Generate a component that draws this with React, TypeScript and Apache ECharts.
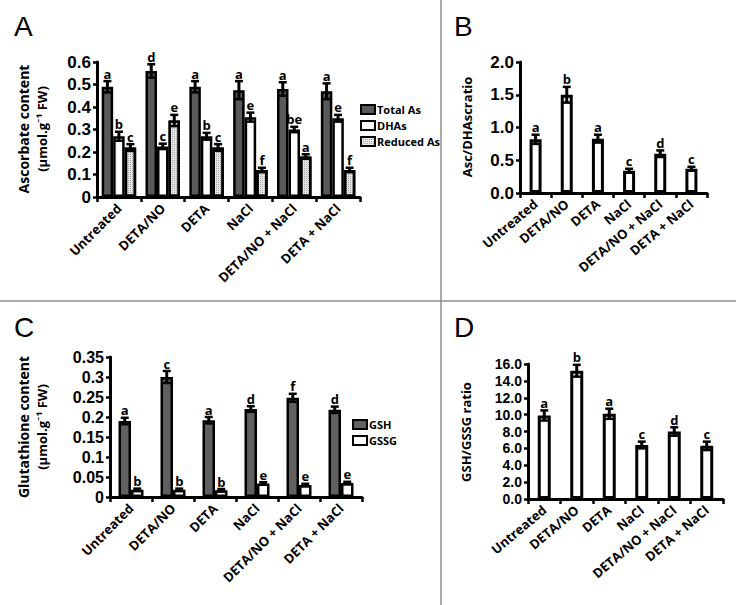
import React, { useEffect, useRef } from "react";
import * as echarts from "echarts";

const categories = ["Untreated", "DETA/NO", "DETA", "NaCl", "DETA/NO + NaCl", "DETA + NaCl"];

// Panel A – ascorbate content
const totalAs = [0.49, 0.56, 0.49, 0.475, 0.48, 0.47];
const totalAsErr = [0.025, 0.03, 0.025, 0.04, 0.03, 0.035];
const totalAsLetters = ["a", "d", "a", "a", "a", "a"];
const dhas = [0.27, 0.225, 0.27, 0.355, 0.3, 0.35];
const dhasErr = [0.02, 0.012, 0.015, 0.02, 0.012, 0.015];
const dhasLetters = ["b", "c", "b", "e", "be", "e"];
const reducedAs = [0.22, 0.34, 0.22, 0.12, 0.18, 0.12];
const reducedAsErr = [0.015, 0.025, 0.015, 0.01, 0.01, 0.01];
const reducedAsLetters = ["c", "e", "c", "f", "a", "f"];

// Panel B – Asc/DHAsc ratio
const ascRatio = [0.82, 1.5, 0.83, 0.34, 0.6, 0.37];
const ascRatioErr = [0.07, 0.12, 0.06, 0.03, 0.05, 0.03];
const ascRatioLetters = ["a", "b", "a", "c", "d", "c"];

// Panel C – glutathione content
const gsh = [0.19, 0.3, 0.192, 0.22, 0.248, 0.218];
const gshErr = [0.008, 0.015, 0.008, 0.007, 0.01, 0.008];
const gshLetters = ["a", "c", "a", "d", "f", "d"];
const gssg = [0.018, 0.018, 0.017, 0.034, 0.03, 0.035];
const gssgErr = [0.003, 0.003, 0.003, 0.003, 0.003, 0.003];
const gssgLetters = ["b", "b", "b", "e", "e", "e"];

// Panel D – GSH/GSSG ratio
const gshRatio = [9.9, 15.2, 10.1, 6.4, 8.0, 6.3];
const gshRatioErr = [0.6, 0.7, 0.6, 0.4, 0.5, 0.5];
const gshRatioLetters = ["a", "b", "a", "c", "d", "c"];

const FONT = "'Open Sans', Lato, sans-serif";
const TICK_FONT = "'Liberation Sans', Arial, sans-serif";

function errSeries(
  name: string,
  g: number,
  values: number[],
  errs: number[],
  letters: string[],
  offset: number,
  capW: number
) {
  return {
    type: "custom",
    name,
    xAxisIndex: g,
    yAxisIndex: g,
    clip: false,
    silent: true,
    z: 10,
    data: values.map((v, i) => [i, v, errs[i]]),
    encode: { x: 0, y: 1 },
    renderItem: (params: any, api: any) => {
      const i = api.value(0);
      const v = api.value(1);
      const e = api.value(2);
      const c = api.coord([i, v]);
      const t = api.coord([i, v + e]);
      const b = api.coord([i, v - e]);
      const x = c[0] + offset;
      return {
        type: "group",
        children: [
          { type: "line", shape: { x1: x, y1: t[1], x2: x, y2: b[1] }, style: { stroke: "#000", lineWidth: 3 } },
          { type: "line", shape: { x1: x - capW / 2, y1: t[1], x2: x + capW / 2, y2: t[1] }, style: { stroke: "#000", lineWidth: 2.5 } },
          { type: "line", shape: { x1: x - capW / 2, y1: b[1], x2: x + capW / 2, y2: b[1] }, style: { stroke: "#000", lineWidth: 2.5 } },
          {
            type: "text",
            x,
            y: t[1] - 1,
            style: {
              text: letters[params.dataIndex],
              align: "center",
              verticalAlign: "bottom",
              font: `bold 13px ${FONT}`,
              fill: "#000",
            },
          },
        ],
      };
    },
  };
}

function barSeries(name: string, g: number, values: number[], color: string, width: number, border: number, extra: any = {}) {
  return {
    type: "bar",
    name,
    xAxisIndex: g,
    yAxisIndex: g,
    data: values,
    barWidth: width,
    barGap: "0%",
    itemStyle: { color, borderColor: "#000", borderWidth: border, ...extra },
  };
}

function xAxisFor(g: number, rotate: number) {
  return {
    type: "category",
    gridIndex: g,
    data: categories,
    axisLine: { lineStyle: { color: "#000", width: 3 } },
    axisTick: { show: true, length: 5, lineStyle: { color: "#000", width: 2.5 } },
    axisLabel: {
      interval: 0,
      rotate,
      margin: 9,
      color: "#000",
      fontWeight: "bold",
      fontSize: 13,
      fontFamily: FONT,
    },
  };
}

function yAxisFor(g: number, max: number, interval: number, size: number, fmt?: (v: number) => string) {
  return {
    type: "value",
    gridIndex: g,
    min: 0,
    max,
    interval,
    splitLine: { show: false },
    axisLine: { show: true, lineStyle: { color: "#000", width: 3 } },
    axisTick: { show: true, length: 4, lineStyle: { color: "#000", width: 2.5 } },
    axisLabel: {
      color: "#000",
      fontWeight: "bold",
      fontSize: size,
      lineHeight: size,
      fontFamily: TICK_FONT,
      margin: 6,
      formatter: fmt,
    },
  };
}

function vText(text: string, x: number, y: number, weight = "bold", size = 14) {
  return {
    type: "text",
    x,
    y,
    rotation: Math.PI / 2,
    style: {
      text,
      align: "center",
      verticalAlign: "middle",
      font: `${weight} ${size}px ${FONT}`,
      fill: "#000",
    },
  };
}

function panelLetter(text: string, x: number, y: number) {
  return {
    type: "text",
    x,
    y,
    style: { text, font: "28px 'Liberation Sans', Arial, sans-serif", fill: "#000", align: "left", verticalAlign: "top" },
  };
}

export default function App() {
  const ref = useRef<HTMLDivElement>(null);
  useEffect(() => {
    if (!ref.current) return;
    const chart = echarts.init(ref.current, null, { renderer: "svg" });
    const fix1 = (v: number) => v.toFixed(1);
    const legendBase = {
      orient: "vertical",
      icon: "rect",
      itemWidth: 14,
      itemHeight: 9,
      itemGap: 5,
      padding: 0,
      selectedMode: false,
      textStyle: { color: "#000", fontWeight: "bold", fontSize: 11, fontFamily: FONT, padding: [0, 0, 0, -3] },
    };
    const option: any = {
      animation: false,
      backgroundColor: "#fff",
      grid: [
        { left: 97, top: 62, width: 263, height: 135 },
        { left: 520, top: 62, width: 187, height: 131 },
        { left: 110, top: 357, width: 252, height: 140 },
        { left: 528, top: 364, width: 195, height: 135 },
      ],
      xAxis: [xAxisFor(0, 45), xAxisFor(1, 40), xAxisFor(2, 45), xAxisFor(3, 40)],
      yAxis: [
        yAxisFor(0, 0.6, 0.1, 17),
        yAxisFor(1, 2.0, 0.5, 17, fix1),
        yAxisFor(2, 0.35, 0.05, 16),
        yAxisFor(3, 16, 2, 14, fix1),
      ],
      legend: [
        { ...legendBase, data: ["Total As", "DHAs", "Reduced As"], left: 360, top: 104 },
        { ...legendBase, data: ["GSH", "GSSG"], left: 352, top: 419 },
      ],
      series: [
        barSeries("Total As", 0, totalAs, "#595959", 11.5, 2.5),
        barSeries("DHAs", 0, dhas, "#ffffff", 11.5, 2.5),
        barSeries("Reduced As", 0, reducedAs, "#e6e6e6", 11.5, 2.5, {
          decal: { symbol: "rect", symbolSize: 1, color: "rgba(0,0,0,0.28)", dashArrayX: [1, 1], dashArrayY: [1, 1] },
        }),
        errSeries("e-total", 0, totalAs, totalAsErr, totalAsLetters, -11.5, 8),
        errSeries("e-dhas", 0, dhas, dhasErr, dhasLetters, 0, 8),
        errSeries("e-red", 0, reducedAs, reducedAsErr, reducedAsLetters, 11.5, 8),

        barSeries("Asc/DHAsc ratio", 1, ascRatio, "#ffffff", 12, 3),
        errSeries("e-asc", 1, ascRatio, ascRatioErr, ascRatioLetters, 0, 8),

        barSeries("GSH", 2, gsh, "#606060", 12.5, 2.5),
        barSeries("GSSG", 2, gssg, "#ffffff", 12.5, 2.5),
        errSeries("e-gsh", 2, gsh, gshErr, gshLetters, -6.25, 8),
        errSeries("e-gssg", 2, gssg, gssgErr, gssgLetters, 6.25, 8),

        barSeries("GSH/GSSG ratio", 3, gshRatio, "#ffffff", 13, 3),
        errSeries("e-gshr", 3, gshRatio, gshRatioErr, gshRatioLetters, 0, 8),
      ],
      graphic: [
        { type: "line", shape: { x1: 0, y1: 301, x2: 736, y2: 301 }, style: { stroke: "#8c8c8c", lineWidth: 1.5 } },
        { type: "line", shape: { x1: 441, y1: 0, x2: 441, y2: 605 }, style: { stroke: "#8c8c8c", lineWidth: 1.5 } },
        panelLetter("A", 14, 12),
        panelLetter("B", 454, 12),
        panelLetter("C", 14, 313),
        panelLetter("D", 454, 313),
        vText("Ascorbate content", 23, 129, "bold", 14),
        vText("(μmol.g⁻¹ FW)", 42, 129, "bold", 13),
        vText("Asc/DHAscratio", 467, 127, "bold", 13),
        vText("Glutathione content", 23, 427, "bold", 14),
        vText("(μmol.g⁻¹ FW)", 42, 427, "bold", 13),
        vText("GSH/GSSG ratio", 466, 432, "bold", 13),
      ],
    };
    chart.setOption(option);
    return () => chart.dispose();
  }, []);
  return (
    <div
      ref={ref}
      style={{ position: "fixed", left: 0, top: 0, width: 736, height: 605, background: "#fff" }}
    />
  );
}
